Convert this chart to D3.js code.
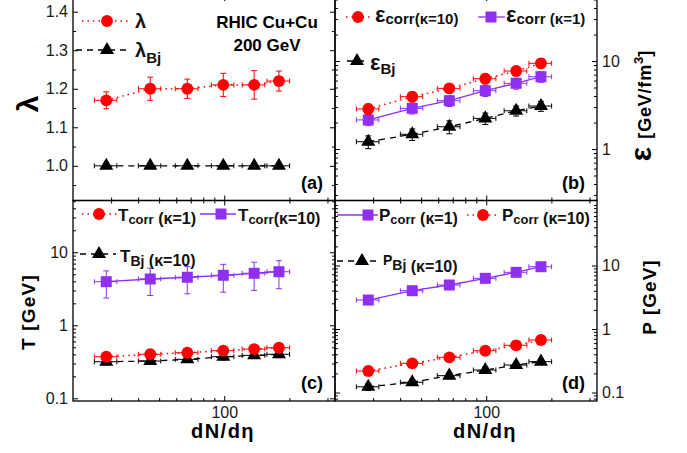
<!DOCTYPE html>
<html>
<head>
<meta charset="utf-8">
<script src="https://cdn.jsdelivr.net/npm/d3@7"></script>
<style>
  body { margin: 0; background: #fff; }
  text { font-family: "Liberation Sans", Arial, sans-serif; }
</style>
</head>
<body>
<svg id="chart" width="687" height="453"></svg>
<script>
// dN/deta bins (Cu+Cu 200 GeV) and their horizontal errors
var dNdeta    = [28.5, 45.5, 67.5, 99, 137.5, 179];
var dNdetaErr = [3.4, 5.4, 8.1, 11.8, 16.5, 21.5];

// panel (a)
var lambda      = [1.17, 1.20, 1.20, 1.21, 1.21, 1.22];
var lambdaErr   = [0.022, 0.03, 0.025, 0.03, 0.037, 0.026];
var lambdaBj    = [1.0, 1.0, 1.0, 1.0, 1.0, 1.0];
var lambdaBjErr = [0.003, 0.003, 0.003, 0.003, 0.003, 0.003];

// panel (b)
var epsCorrK10    = [2.85, 3.93, 4.89, 6.29, 7.70, 9.42];
var epsCorrK10Err = [0.4, 0.5, 0.6, 0.8, 0.9, 1.1];
var epsCorrK1     = [2.14, 2.90, 3.54, 4.60, 5.58, 6.63];
var epsCorrK1Err  = [0.3, 0.4, 0.5, 0.65, 0.8, 0.9];
var epsBj         = [1.21, 1.47, 1.79, 2.23, 2.72, 3.08];
var epsBjErr      = [0.2, 0.22, 0.3, 0.33, 0.35, 0.4];

// panel (c)
var TcorrK1     = [0.371, 0.401, 0.421, 0.449, 0.473, 0.493];
var TcorrK1Err  = [0.03, 0.03, 0.03, 0.035, 0.035, 0.04];
var TcorrK10    = [3.96, 4.31, 4.55, 4.84, 5.16, 5.42];
var TcorrK10Err = [1.6, 1.75, 1.85, 2.0, 2.15, 2.25];
var TBj         = [0.317, 0.324, 0.342, 0.371, 0.388, 0.401];
var TBjErr      = [0.03, 0.03, 0.03, 0.035, 0.035, 0.04];

// panel (d)
var PcorrK1     = [2.86, 4.01, 4.93, 6.28, 7.81, 9.57];
var PcorrK1Err  = [0.3, 0.4, 0.5, 0.6, 0.75, 0.9];
var PcorrK10    = [0.218, 0.288, 0.358, 0.455, 0.554, 0.671];
var PcorrK10Err = [0.02, 0.025, 0.03, 0.04, 0.05, 0.06];
var PBj         = [0.123, 0.145, 0.184, 0.226, 0.271, 0.306];
var PBjErr      = [0.015, 0.015, 0.02, 0.025, 0.025, 0.03];

// tick values
var xMajor = [100];
var xMinor = [30, 40, 50, 60, 70, 80, 90, 200, 300];
var lambdaTicks = [1.0, 1.1, 1.2, 1.3, 1.4];
var lambdaMinor = [0.95, 1.05, 1.15, 1.25, 1.35];

var RED = "#ff0000", PURPLE = "#8f30f0", BLACK = "#000";
var DOT = "1.5,4", DASH = "6,5";

function logMinor(lo, hi) {
  var out = [];
  for (var e = -2; e <= 2; e++) {
    for (var m = 2; m <= 9; m++) {
      var v = m * Math.pow(10, e);
      if (v > lo && v < hi) out.push(v);
    }
  }
  return out;
}

var svg = d3.select("#chart");

var left = {x0: 73, x1: 335}, right = {x0: 335, x1: 597};
var top_ = {y0: -4, y1: 200.5}, bot = {y0: 200.5, y1: 401};

var panels = [
  {name: "(a)", col: left, row: top_, log: false, domain: [0.91, 1.4407],
   major: lambdaTicks, minor: lambdaMinor, fmt: d3.format(".1f"), side: "left", xlabels: false,
   series: [
     {y: lambdaBj, e: lambdaBjErr, color: BLACK, marker: "triangle", dash: DASH},
     {y: lambda, e: lambdaErr, color: RED, marker: "circle", dash: DOT}
   ]},
  {name: "(b)", col: right, row: top_, log: true, domain: [0.26, 54.8],
   major: [1, 10], fmt: d3.format("d"), side: "right", xlabels: false,
   series: [
     {y: epsBj, e: epsBjErr, color: BLACK, marker: "triangle", dash: DASH},
     {y: epsCorrK1, e: epsCorrK1Err, color: PURPLE, marker: "square", dash: null},
     {y: epsCorrK10, e: epsCorrK10Err, color: RED, marker: "circle", dash: DOT}
   ]},
  {name: "(c)", col: left, row: bot, log: true, domain: [0.0919, 51.2],
   major: [0.1, 1, 10], fmt: function(d) { return d < 1 ? "0.1" : d3.format("d")(d); }, side: "left", xlabels: true,
   series: [
     {y: TBj, e: TBjErr, color: BLACK, marker: "triangle", dash: DASH},
     {y: TcorrK10, e: TcorrK10Err, color: PURPLE, marker: "square", dash: null},
     {y: TcorrK1, e: TcorrK1Err, color: RED, marker: "circle", dash: DOT}
   ]},
  {name: "(d)", col: right, row: bot, log: true, domain: [0.0735, 105.6],
   major: [0.1, 1, 10], fmt: function(d) { return d < 1 ? "0.1" : d3.format("d")(d); }, side: "right", xlabels: true,
   series: [
     {y: PBj, e: PBjErr, color: BLACK, marker: "triangle", dash: DASH},
     {y: PcorrK1, e: PcorrK1Err, color: PURPLE, marker: "square", dash: null},
     {y: PcorrK10, e: PcorrK10Err, color: RED, marker: "circle", dash: DOT}
   ]}
];

var symbols = {
  circle: d3.symbol().type(d3.symbolCircle).size(110),
  square: d3.symbol().type(d3.symbolSquare).size(121),
  triangle: d3.symbol().type(d3.symbolTriangle).size(85)
};

function styleAxis(g, labels) {
  g.select(".domain").remove();
  g.selectAll(".tick line").attr("stroke", "#000").attr("stroke-width", 1);
  g.selectAll(".tick text")
    .attr("font-family", "Liberation Sans, Arial, sans-serif")
    .attr("font-size", 16).attr("fill", "#1a1a1a");
  if (!labels) g.selectAll(".tick text").remove();
}

panels.forEach(function(p) {
  var x = d3.scaleLog().domain([20, 325]).range([p.col.x0, p.col.x1]);
  var y = (p.log ? d3.scaleLog() : d3.scaleLinear()).domain(p.domain).range([p.row.y1, p.row.y0]);
  var minor = p.log ? logMinor(p.domain[0], p.domain[1]) : p.minor;
  var g = svg.append("g");

  // x axes (bottom + mirrored top)
  g.append("g").attr("transform", "translate(0," + p.row.y1 + ")")
    .call(d3.axisBottom(x).tickValues(xMajor).tickSize(-5).tickSizeOuter(0).tickPadding(6).tickFormat(d3.format("d")))
    .call(styleAxis, p.xlabels);
  g.append("g").attr("transform", "translate(0," + p.row.y1 + ")")
    .call(d3.axisBottom(x).tickValues(xMinor).tickSize(-3).tickSizeOuter(0).tickFormat(""))
    .call(styleAxis, false);
  g.append("g").attr("transform", "translate(0," + p.row.y0 + ")")
    .call(d3.axisTop(x).tickValues(xMajor).tickSize(-5).tickSizeOuter(0).tickFormat(""))
    .call(styleAxis, false);
  g.append("g").attr("transform", "translate(0," + p.row.y0 + ")")
    .call(d3.axisTop(x).tickValues(xMinor).tickSize(-3).tickSizeOuter(0).tickFormat(""))
    .call(styleAxis, false);

  // y axes (left + right)
  g.append("g").attr("transform", "translate(" + p.col.x0 + ",0)")
    .call(d3.axisLeft(y).tickValues(p.major).tickSize(-5).tickSizeOuter(0).tickPadding(5).tickFormat(p.fmt))
    .call(styleAxis, p.side === "left");
  g.append("g").attr("transform", "translate(" + p.col.x0 + ",0)")
    .call(d3.axisLeft(y).tickValues(minor).tickSize(-3).tickSizeOuter(0).tickFormat(""))
    .call(styleAxis, false);
  g.append("g").attr("transform", "translate(" + p.col.x1 + ",0)")
    .call(d3.axisRight(y).tickValues(p.major).tickSize(-5).tickSizeOuter(0).tickPadding(5).tickFormat(p.fmt))
    .call(styleAxis, p.side === "right");
  g.append("g").attr("transform", "translate(" + p.col.x1 + ",0)")
    .call(d3.axisRight(y).tickValues(minor).tickSize(-3).tickSizeOuter(0).tickFormat(""))
    .call(styleAxis, false);

  // frame
  g.append("rect")
    .attr("x", p.col.x0).attr("y", p.row.y0)
    .attr("width", p.col.x1 - p.col.x0).attr("height", p.row.y1 - p.row.y0)
    .attr("fill", "none").attr("stroke", "#000").attr("stroke-width", 1.3);

  // series
  p.series.forEach(function(s) {
    var pts = dNdeta.map(function(d, i) { return {x: d, xe: dNdetaErr[i], y: s.y[i], ye: s.e[i]}; });
    var line = d3.line().x(function(d) { return x(d.x); }).y(function(d) { return y(d.y); });
    g.append("path").datum(pts)
      .attr("d", line).attr("fill", "none")
      .attr("stroke", s.color).attr("stroke-width", s.dash === DOT ? 1.5 : 1.3)
      .attr("stroke-dasharray", s.dash);

    var eb = g.append("g").attr("stroke", s.color).attr("stroke-width", 1);
    pts.forEach(function(d) {
      var cx = x(d.x), cy = y(d.y);
      var xl = x(d.x - d.xe), xr = x(d.x + d.xe);
      var yt = y(d.y + d.ye), yb = y(d.y - d.ye);
      eb.append("line").attr("x1", xl).attr("x2", xr).attr("y1", cy).attr("y2", cy);
      eb.append("line").attr("x1", xl).attr("x2", xl).attr("y1", cy - 2.5).attr("y2", cy + 2.5);
      eb.append("line").attr("x1", xr).attr("x2", xr).attr("y1", cy - 2.5).attr("y2", cy + 2.5);
      eb.append("line").attr("x1", cx).attr("x2", cx).attr("y1", yt).attr("y2", yb);
      eb.append("line").attr("x1", cx - 3).attr("x2", cx + 3).attr("y1", yt).attr("y2", yt);
      eb.append("line").attr("x1", cx - 3).attr("x2", cx + 3).attr("y1", yb).attr("y2", yb);
    });

    g.selectAll(null).data(pts).enter().append("path")
      .attr("d", symbols[s.marker])
      .attr("transform", function(d) { return "translate(" + x(d.x) + "," + y(d.y) + ")"; })
      .attr("fill", s.color);
  });

  // panel label
  g.append("text")
    .attr("x", p.col.x1 - 12).attr("y", p.row.y1 - 12)
    .attr("text-anchor", "end").attr("font-size", 18).attr("font-weight", "bold")
    .text(p.name);
});

// legends: marker centre (mx,my), line span (lx1,lx2), text pieces
function legend(it) {
  var g = svg.append("g");
  g.append("line")
    .attr("x1", it.lx1).attr("x2", it.lx2).attr("y1", it.my).attr("y2", it.my)
    .attr("stroke", it.color).attr("stroke-width", it.dash === DOT ? 1.5 : 1.3)
    .attr("stroke-dasharray", it.dash);
  g.append("path").attr("d", symbols[it.marker])
    .attr("transform", "translate(" + it.mx + "," + it.my + ")")
    .attr("fill", it.color);
  var t = g.append("text").attr("x", it.tx).attr("y", it.ty).attr("font-weight", "bold").attr("fill", "#111");
  it.parts.forEach(function(pt) {
    t.append("tspan").attr("font-size", pt.size).attr("dy", pt.dy || 0).text(pt.t);
  });
}

var legends = [
  // (a)
  {color: RED, marker: "circle", dash: DOT, mx: 107, my: 21, lx1: 82, lx2: 128, tx: 135, ty: 28,
   parts: [{t: "λ", size: 20}]},
  {color: BLACK, marker: "triangle", dash: DASH, mx: 107, my: 50, lx1: 76, lx2: 131, tx: 135, ty: 57,
   parts: [{t: "λ", size: 20}, {t: "Bj", size: 15, dy: 6}]},
  // (b)
  {color: RED, marker: "circle", dash: DOT, mx: 358, my: 17, lx1: 346, lx2: 372, tx: 375, ty: 22,
   parts: [{t: "ε", size: 22}, {t: "corr(κ=10)", size: 15, dy: 2}]},
  {color: PURPLE, marker: "square", dash: null, mx: 491, my: 17, lx1: 478, lx2: 505, tx: 506, ty: 22,
   parts: [{t: "ε", size: 22}, {t: "corr (κ=1)", size: 15, dy: 2}]},
  {color: BLACK, marker: "triangle", dash: DASH, mx: 357, my: 61, lx1: 347, lx2: 368, tx: 370, ty: 70,
   parts: [{t: "ε", size: 22}, {t: "Bj", size: 15, dy: 4}]},
  // (c)
  {color: RED, marker: "circle", dash: DOT, mx: 99, my: 214, lx1: 82, lx2: 117, tx: 118, ty: 221,
   parts: [{t: "T", size: 17}, {t: "corr", size: 13, dy: 3}, {t: " (κ=1)", size: 16}]},
  {color: PURPLE, marker: "square", dash: null, mx: 221, my: 214, lx1: 200, lx2: 236, tx: 238, ty: 221,
   parts: [{t: "T", size: 17}, {t: "corr", size: 13, dy: 3}, {t: "(κ=10)", size: 16}]},
  {color: BLACK, marker: "triangle", dash: DASH, mx: 99, my: 254, lx1: 80, lx2: 116, tx: 120, ty: 262,
   parts: [{t: "T", size: 17}, {t: "Bj", size: 14, dy: 4}, {t: "  (κ=10)", size: 16}]},
  // (d)
  {color: PURPLE, marker: "square", dash: null, mx: 368, my: 215, lx1: 337, lx2: 378, tx: 379, ty: 221,
   parts: [{t: "P", size: 17}, {t: "corr", size: 13, dy: 3}, {t: " (κ=1)", size: 16}]},
  {color: RED, marker: "circle", dash: DOT, mx: 483, my: 215, lx1: 467, lx2: 500, tx: 502, ty: 221,
   parts: [{t: "P", size: 17}, {t: "corr", size: 13, dy: 3}, {t: " (κ=10)", size: 16}]},
  {color: BLACK, marker: "triangle", dash: DASH, mx: 362, my: 261, lx1: 337, lx2: 377, tx: 383, ty: 265,
   parts: [{t: "P", size: 14}, {t: "Bj", size: 14, dy: 5}, {t: " (κ=10)", size: 16, dy: 2}]}
];
legends.forEach(legend);

// annotation in (a)
svg.append("text").attr("x", 267).attr("y", 28).attr("text-anchor", "middle")
  .attr("font-size", 17).attr("font-weight", "bold").text("RHIC Cu+Cu");
svg.append("text").attr("x", 267).attr("y", 51).attr("text-anchor", "middle")
  .attr("font-size", 17).attr("font-weight", "bold").text("200 GeV");

// axis titles
svg.append("text").attr("transform", "translate(38,104) rotate(-90)")
  .attr("text-anchor", "middle").attr("font-size", 30).attr("font-weight", "bold").text("λ");
svg.append("text").attr("transform", "translate(35,312) rotate(-90)")
  .attr("text-anchor", "middle").attr("font-size", 19).attr("font-weight", "bold")
  .attr("letter-spacing", 1.2).text("T [GeV]");
var et = svg.append("text").attr("transform", "translate(651,106) rotate(-90)")
  .attr("text-anchor", "middle").attr("font-weight", "bold");
et.append("tspan").attr("font-size", 30).text("ε ");
et.append("tspan").attr("font-size", 18).attr("letter-spacing", 0.8).text("[GeV/fm");
et.append("tspan").attr("font-size", 13).attr("dy", -8).text("3");
et.append("tspan").attr("font-size", 18).attr("dy", 8).text("]");
svg.append("text").attr("transform", "translate(656,297) rotate(-90)")
  .attr("text-anchor", "middle").attr("font-size", 19).attr("font-weight", "bold")
  .attr("letter-spacing", 1).text("P [GeV]");
svg.append("text").attr("x", 223).attr("y", 438).attr("text-anchor", "middle")
  .attr("font-size", 20).attr("font-weight", "bold").attr("letter-spacing", 1.5).text("dN/dη");
svg.append("text").attr("x", 485).attr("y", 438).attr("text-anchor", "middle")
  .attr("font-size", 20).attr("font-weight", "bold").attr("letter-spacing", 1.5).text("dN/dη");
</script>
</body>
</html>
